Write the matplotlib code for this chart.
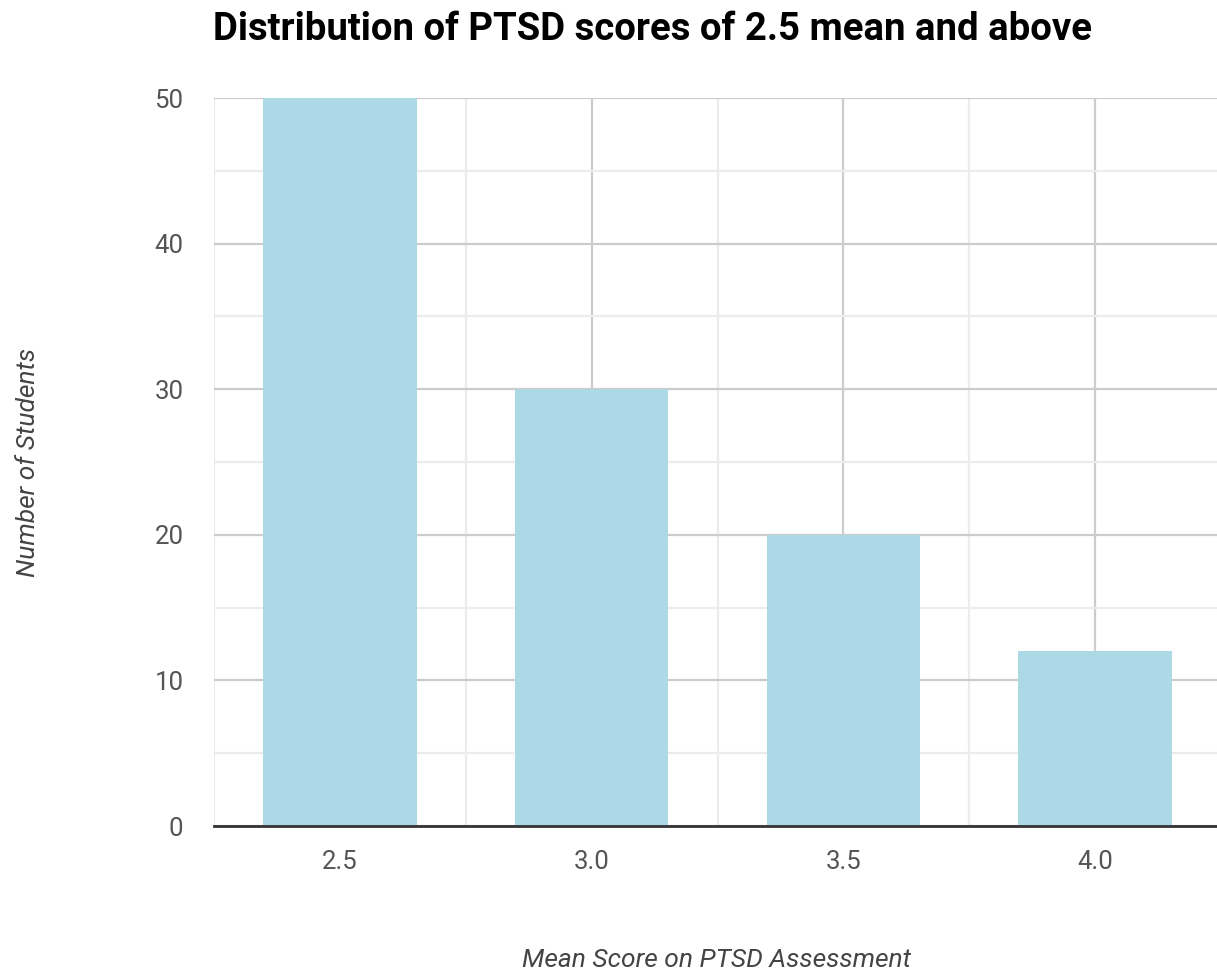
import matplotlib
matplotlib.use("Agg")
import matplotlib.pyplot as plt
from matplotlib.ticker import MultipleLocator

plt.rcParams['font.family'] = ['Roboto', 'DejaVu Sans']

scores = [2.5, 3.0, 3.5, 4.0]
score_labels = ["2.5", "3.0", "3.5", "4.0"]
students = [50, 30, 20, 12]

W, H = 1217, 973
fig = plt.figure(figsize=(W / 100, H / 100), dpi=100)
# plot area in pixel terms (left, top, right, bottom)
l, t, r, b = 214, 98, 1221, 826
ax = fig.add_axes([l / W, 1 - b / H, (r - l) / W, (b - t) / H])

ax.bar(scores, students, width=0.305, color="#add8e6", zorder=3)

ax.set_xlim(2.25, 4.25)
ax.set_ylim(0, 50)

ax.set_xticks(scores)
ax.set_xticklabels(score_labels)
ax.xaxis.set_minor_locator(MultipleLocator(0.5, offset=0.25))
ax.yaxis.set_major_locator(MultipleLocator(10))
ax.yaxis.set_minor_locator(MultipleLocator(5))

ax.grid(which="major", color="#cccccc", linewidth=1.6, zorder=0)
ax.grid(which="minor", color="#ececec", linewidth=1.6, zorder=0)
ax.set_axisbelow(True)

for s in ["top", "right", "left"]:
    ax.spines[s].set_visible(False)
ax.spines["bottom"].set_color("#333333")
ax.spines["bottom"].set_linewidth(2)
ax.spines["bottom"].set_zorder(4)

ax.tick_params(which="both", length=0)
ax.tick_params(axis="y", labelsize=18.5, labelcolor="#555555", pad=22)
ax.tick_params(axis="x", labelsize=18.5, labelcolor="#555555", pad=17)

fig.text(213 / W, 1 - 29 / H, "Distribution of PTSD scores of 2.5 mean and above",
         fontsize=27.6, fontweight="bold", color="#000000", ha="left", va="center")
fig.text(717 / W, 1 - 960 / H, "Mean Score on PTSD Assessment",
         fontsize=19, fontstyle="italic", color="#444444", ha="center", va="center")
fig.text(28 / W, 1 - 462 / H, "Number of Students",
         fontsize=19, fontstyle="italic", color="#444444", ha="center", va="center",
         rotation=90)

fig.savefig("out.png", dpi=100)
